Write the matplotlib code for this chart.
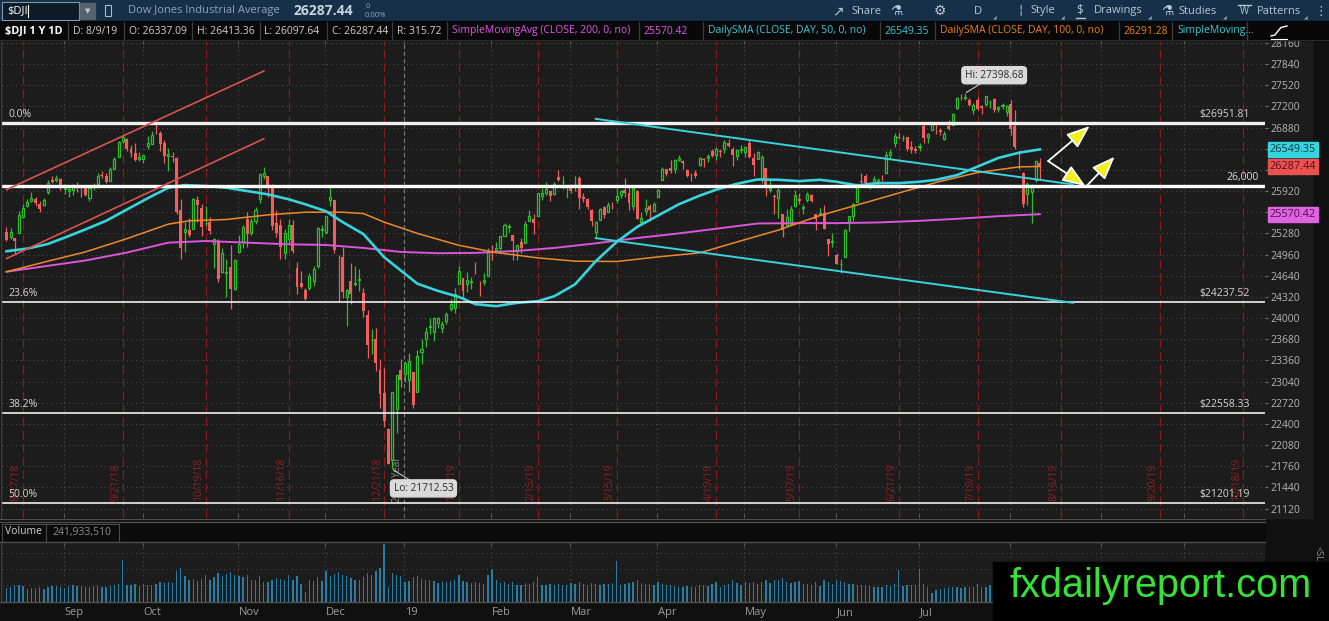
import numpy as np
import pandas as pd
import matplotlib
matplotlib.use("Agg")
import matplotlib.pyplot as plt
from matplotlib import transforms
from matplotlib.patches import Rectangle, FancyArrowPatch
from matplotlib.lines import Line2D

plt.rcParams['font.family'] = ['Open Sans', 'DejaVu Sans']

# trading days on the time axis (incl. the empty future part on the right)
market_holidays = ['2018-09-03', '2018-11-22', '2018-12-05', '2018-12-25', '2019-01-01',
                   '2019-01-21', '2019-02-18', '2019-04-19', '2019-05-27', '2019-07-04',
                   '2019-09-02']
days = pd.bdate_range('2018-08-13', '2019-10-25', freq='C', holidays=market_holidays)

# $DJI daily candles, 8/13/18 .. 8/9/19
opens = [
    25300, 25220, 25210, 25280, 25530, 25690, 25770, 25800, 25730, 25710, 25900, 26080, 26090, 26100, 25950,
    25920, 25930, 26000, 25920, 25970, 25810, 25980, 26020, 26160, 26150, 26070, 26260, 26440, 26680, 26710,
    26560, 26500, 26410, 26400,
    26600, 26630, 26830, 26790, 26640, 26450, 26450, 26420, 25630, 25300, 25330, 25340, 25790, 25660, 25430,
    25450, 25120, 25150, 24690, 24680, 24770, 24440, 25000,
    25150, 25500, 25280, 25460, 25800, 26150, 26140, 25990, 25440, 25400, 24990, 25200, 25400, 24750, 24530,
    24420, 24450, 24560, 24780, 25330, 25300,
    25780, 25780, 24950, 24920, 24320, 24560, 24520, 24580, 24380, 24050, 23670, 23690, 23220, 22870, 22320,
    21860, 22630, 23210, 23150,
    23060, 23180, 22890, 23480, 23680, 23870, 23790, 23930, 23850, 23950, 24140, 24150, 24520, 24610, 24520,
    24550, 24740, 24530, 24540, 24630, 25010,
    25030, 25060, 25240, 25370, 25260, 25020, 25150, 25130, 25470, 25490, 25550, 25840, 25890, 25920, 25880,
    26130, 26050, 25980, 25990,
    26020, 26120, 25830, 25800, 25640, 25300, 25480, 25680, 25600, 25710, 25780, 25860, 25940, 25890, 25700,
    25920, 25450, 25620, 25690, 25620, 25830,
    26080, 26260, 26270, 26250, 26390, 26380, 26240, 26160, 26190, 26310, 26410, 26420, 26520, 26470, 26530,
    26560, 26650, 26560, 26450, 26540, 26510,
    26640, 26420, 26400, 26100, 26270, 25940, 25850, 25820, 25580, 25400, 25420, 25700, 25800, 25670, 25780,
    25860, 25580, 25580, 25590, 25200, 25150, 24950,
    24810, 24920, 25470, 25550, 25760, 26070, 26150, 26000, 26050, 26060, 26120, 26200, 26470, 26650, 26730,
    26720, 26740, 26590, 26560, 26580,
    26900, 26730, 26840, 26940, 26850, 26710, 26900, 26920, 27170, 27360, 27330, 27300, 27150, 27290, 27200,
    27240, 27260, 27310, 27160, 27200, 27110, 27230,
    26900, 26500, 26200, 25880, 25910, 26090, 26337.09]
highs = [
    25380, 25355, 25210, 25615, 25720, 25800, 25900, 25830, 25770, 25820, 26080, 26140, 26170, 26110, 26020,
    25990, 26030, 26060, 26010, 26010, 26000, 26040, 26190, 26220, 26200, 26290, 26440, 26680, 26770, 26720,
    26620, 26640, 26510, 26470,
    26750, 26830, 26951.81, 26820, 26690, 26570, 26510, 26430, 25800, 25450, 25520, 25820, 25840, 25730, 25690,
    25530, 25210, 25190, 25060, 24900, 25100, 24900, 25260,
    25400, 25600, 25520, 25680, 26190, 26280, 26140, 26020, 25640, 25500, 25340, 25500, 25480, 24850, 24710,
    24450, 24680, 24780, 25370, 25400, 25550,
    25980, 25780, 24950, 25080, 24440, 24830, 24780, 24740, 24460, 24120, 23830, 23850, 23380, 23250, 22340,
    22880, 23140, 23380, 23350,
    23470, 23180, 23520, 23690, 23860, 24000, 24010, 24010, 23960, 24090, 24290, 24460, 24780, 24610, 24690,
    24620, 24840, 24560, 24680, 25060, 25100,
    25150, 25240, 25440, 25420, 25260, 25110, 25210, 25460, 25630, 25570, 25890, 25960, 26050, 25940, 26050,
    26240, 26150, 26010, 26020,
    26150, 26150, 25890, 25820, 25650, 25460, 25670, 25700, 25750, 25760, 25960, 25930, 26110, 25980, 26010,
    25930, 25610, 25800, 25720, 25760, 25950,
    26280, 26260, 26390, 26400, 26470, 26390, 26260, 26200, 26240, 26440, 26420, 26480, 26550, 26580, 26560,
    26690, 26700, 26590, 26550, 26610, 26600,
    26700, 26490, 26530, 26460, 26270, 26090, 25880, 25970, 25580, 25650, 25700, 25930, 25890, 25730, 25900,
    25880, 25580, 25670, 25710, 25200, 25280, 24980,
    24900, 25340, 25540, 25740, 26040, 26200, 26180, 26050, 26150, 26110, 26170, 26520, 26560, 26800, 26800,
    26760, 26740, 26670, 26600, 26640,
    26950, 26800, 26970, 26970, 26870, 26820, 26990, 27100, 27340, 27390, 27398.68, 27320, 27250, 27340, 27220,
    27350, 27300, 27320, 27200, 27250, 27220, 27300,
    27140, 26520, 26210, 26060, 26030, 26390, 26413.36]
lows = [
    25164, 25200, 24965, 25280, 25520, 25680, 25760, 25700, 25600, 25700, 25880, 26040, 26060, 25930, 25880,
    25830, 25860, 25900, 25830, 25850, 25770, 25930, 26010, 26110, 26040, 26070, 26250, 26440, 26640, 26520,
    26440, 26380, 26380, 26340,
    26550, 26630, 26780, 26530, 26350, 26230, 26360, 25580, 24900, 25000, 25230, 25340, 25450, 25240, 25390,
    25270, 24750, 24540, 24680, 24320, 24130, 24430, 24990,
    25060, 25070, 25260, 25420, 25740, 26100, 25830, 25330, 25220, 24900, 24900, 25120, 24980, 24370, 24460,
    24270, 24420, 24490, 24760, 25220, 25270,
    25700, 24980, 24240, 24300, 23880, 24220, 24490, 24410, 24010, 23400, 23460, 23200, 22640, 22350, 21790,
    21712.53, 22270, 22960, 23030,
    22880, 22640, 22890, 23300, 23570, 23760, 23660, 23850, 23780, 23910, 24100, 24080, 24520, 24300, 24400,
    24440, 24670, 24330, 24500, 24630, 24880,
    24980, 24990, 25240, 25300, 24880, 24880, 24990, 25130, 25460, 25270, 25550, 25790, 25860, 25770, 25860,
    26070, 25950, 25810, 25890,
    25920, 25650, 25750, 25650, 25390, 25208, 25480, 25520, 25600, 25650, 25740, 25820, 25830, 25640, 25640,
    25490, 25420, 25560, 25470, 25600, 25830,
    26080, 26140, 26190, 26200, 26380, 26250, 26130, 26070, 26110, 26300, 26280, 26360, 26430, 26390, 26440,
    26490, 26580, 26300, 26390, 26500, 26440,
    26420, 26140, 26400, 26040, 25850, 25900, 25580, 25520, 25220, 25400, 25410, 25680, 25720, 25580, 25750,
    25750, 25330, 25560, 25340, 24940, 25080, 24810,
    24680, 24920, 25310, 25470, 25750, 26040, 25980, 25950, 26040, 25990, 26070, 26190, 26400, 26580, 26700,
    26680, 26520, 26500, 26500, 26520,
    26650, 26640, 26840, 26780, 26760, 26690, 26840, 26920, 27160, 27300, 27290, 27210, 27090, 27150, 27090,
    27200, 27180, 27110, 27120, 27160, 27060, 26760,
    26550, 26250, 25680, 25710, 25440, 26050, 26097.64]
closes = [
    25187, 25299, 25162, 25558, 25669, 25758, 25822, 25733, 25656, 25790, 26049, 26064, 26124, 25986, 25964,
    25952, 25974, 25995, 25916, 25857, 25971, 25998, 26145, 26154, 26062, 26246, 26405, 26657, 26743, 26562,
    26492, 26385, 26439, 26458,
    26651, 26773, 26828, 26627, 26447, 26486, 26430, 25599, 25053, 25340, 25250, 25798, 25706, 25379, 25444,
    25317, 25191, 24583, 24984, 24689, 24443, 24875, 25116,
    25380, 25271, 25462, 25635, 26181, 26191, 25989, 25387, 25286, 25081, 25289, 25413, 25018, 24465, 24465,
    24286, 24640, 24749, 25366, 25339, 25538,
    25826, 25027, 24947, 24389, 24423, 24370, 24527, 24597, 24101, 23592, 23675, 23324, 22859, 22445, 21792,
    22878, 23139, 23062, 23327,
    23346, 22686, 23433, 23531, 23787, 23879, 24001, 23996, 23910, 24065, 24207, 24370, 24706, 24404, 24575,
    24553, 24737, 24528, 24579, 25014, 24999,
    25064, 25239, 25411, 25390, 25169, 25106, 25053, 25425, 25543, 25439, 25883, 25891, 25954, 25850, 26031,
    26091, 26057, 25985, 25916,
    26026, 25819, 25806, 25673, 25473, 25450, 25650, 25555, 25702, 25709, 25849, 25914, 25887, 25745, 25962,
    25502, 25516, 25657, 25626, 25717, 25929,
    26258, 26180, 26218, 26385, 26425, 26341, 26150, 26157, 26143, 26412, 26384, 26453, 26450, 26559, 26511,
    26656, 26597, 26462, 26543, 26554, 26593,
    26430, 26307, 26505, 26438, 25965, 25968, 25828, 25942, 25325, 25532, 25648, 25862, 25764, 25680, 25877,
    25776, 25490, 25586, 25347, 25126, 25169, 24815,
    24820, 25332, 25540, 25720, 25984, 26062, 26049, 26005, 26107, 26090, 26112, 26466, 26504, 26753, 26719,
    26727, 26548, 26536, 26526, 26600,
    26718, 26787, 26966, 26922, 26806, 26783, 26860, 27088, 27332, 27359, 27336, 27220, 27223, 27154, 27172,
    27349, 27270, 27141, 27192, 27221, 27199, 26864,
    26583, 26485, 25718, 26030, 26008, 26379, 26287.44]
# volume, millions of shares
volume_m = [
    210, 225, 260, 250, 240, 200, 215, 205, 220, 190, 230, 240, 235, 220, 215,
    245, 250, 240, 235, 220, 230, 240, 235, 220, 230, 240, 260, 270, 650, 260, 250, 280, 245, 270,
    260, 265, 270, 300, 285, 300, 290, 480, 530, 400, 330, 350, 320, 345, 420, 330, 380, 450, 400, 430,
    460, 420, 400,
    380, 410, 330, 340, 390, 310, 300, 330, 370, 350, 340, 420, 340, 390, 280, 150, 330, 320, 380, 320, 470,
    400, 430, 460, 420, 390, 370, 340, 330, 380, 440, 420, 480, 520, 895, 230, 440, 420, 390, 300,
    320, 380, 390, 350, 340, 330, 320, 290, 300, 310, 320, 330, 420, 320, 300, 290, 300, 290, 280, 420, 500,
    330, 290, 300, 280, 310, 260, 250, 290, 270, 300, 380, 260, 250, 270, 250, 280, 260, 250, 290,
    270, 300, 270, 260, 290, 280, 260, 270, 280, 290, 625, 260, 280, 290, 310, 330, 290, 280, 270, 250, 300,
    280, 250, 260, 240, 230, 220, 240, 230, 230, 260, 250, 240, 270, 300, 230, 250, 280, 330, 290, 260, 300,
    290, 310, 270, 300, 330, 290, 330, 340, 360, 310, 290, 300, 320, 280, 270, 260, 300, 240, 330, 310, 280, 330,
    320, 300, 270, 280, 260, 260, 250, 240, 230, 230, 220, 250, 240, 270, 485, 240, 260, 250, 250, 510,
    270, 230, 140, 180, 200, 210, 220, 220, 230, 210, 220, 230, 220, 280, 220, 230, 250, 250, 240, 230, 240, 330,
    360, 320, 420, 360, 350, 280, 241.93351]

# studies
sma200_dates = ['2018-08-13', '2018-08-27', '2018-09-10', '2018-09-24', '2018-10-08', '2018-10-19',
                '2018-11-02', '2018-11-16', '2018-11-30', '2018-12-14', '2018-12-28', '2019-01-11',
                '2019-01-25', '2019-02-08', '2019-02-22', '2019-03-08', '2019-03-22', '2019-04-05',
                '2019-04-18', '2019-05-03', '2019-05-17', '2019-05-31', '2019-06-14', '2019-06-28',
                '2019-07-12', '2019-07-26', '2019-08-09']
sma200_vals = [24700, 24790, 24870, 24990, 25140, 25165, 25140, 25115, 25105, 25060, 25000, 24980,
               24985, 25015, 25060, 25130, 25210, 25280, 25350, 25430, 25435, 25435, 25445, 25470,
               25500, 25540, 25570.42]
sma50_dates = ['2018-08-13', '2018-08-20', '2018-08-27', '2018-09-04', '2018-09-10', '2018-09-17',
               '2018-09-24', '2018-10-01', '2018-10-08', '2018-10-12', '2018-10-19', '2018-10-26',
               '2018-11-02', '2018-11-09', '2018-11-16', '2018-11-23', '2018-11-30', '2018-12-07',
               '2018-12-14', '2018-12-21', '2018-12-28', '2019-01-04', '2019-01-11', '2019-01-18',
               '2019-01-25', '2019-02-01', '2019-02-08', '2019-02-15', '2019-02-22', '2019-03-01',
               '2019-03-08', '2019-03-15', '2019-03-22', '2019-03-29', '2019-04-05', '2019-04-12',
               '2019-04-18', '2019-04-26', '2019-05-03', '2019-05-10', '2019-05-17', '2019-05-24',
               '2019-05-31', '2019-06-07', '2019-06-14', '2019-06-21', '2019-06-28', '2019-07-05',
               '2019-07-12', '2019-07-19', '2019-07-26', '2019-08-02', '2019-08-09']
sma50_vals = [25010, 25050, 25120, 25240, 25340, 25470, 25640, 25810, 25970, 26010, 25995, 25970,
              25920, 25870, 25795, 25720, 25615, 25450, 25270, 24920, 24720, 24520, 24410, 24320,
              24210, 24180, 24230, 24255, 24330, 24510, 24860, 25150, 25380, 25550, 25720, 25850,
              25940, 26030, 26095, 26090, 26070, 26090, 26060, 26005, 26040, 26040, 26060, 26090,
              26160, 26290, 26420, 26500, 26549.35]
sma100_dates = ['2018-08-13', '2018-08-27', '2018-09-10', '2018-09-24', '2018-10-08', '2018-10-15',
                '2018-10-26', '2018-11-09', '2018-11-23', '2018-12-07', '2018-12-14', '2018-12-21',
                '2019-01-04', '2019-01-18', '2019-02-01', '2019-02-15', '2019-03-01', '2019-03-15',
                '2019-03-29', '2019-04-12', '2019-04-26', '2019-05-10', '2019-05-24', '2019-06-07',
                '2019-06-21', '2019-07-05', '2019-07-19', '2019-08-02', '2019-08-09']
sma100_vals = [24700, 24860, 25000, 25200, 25420, 25470, 25490, 25560, 25600, 25600, 25580, 25450,
               25280, 25100, 24990, 24910, 24860, 24855, 24925, 24985, 25150, 25330, 25550, 25710,
               25890, 26050, 26200, 26285, 26291.28]

# drawings
fib_levels = [26951.81, 24237.52, 22558.33, 21201.19]
fib_names = ['0.0%', '23.6%', '38.2%', '50.0%']
round_level = 26000
channel_dates = ['2018-08-13', '2018-11-08']
channel_upper = [25941, 27733]
channel_lower = [24899, 26710]
wedge_dates = ['2019-03-08', '2019-08-21']
wedge_upper = [27011, 26020]
wedge_lower = [25208, 24230]
arrow_from_dates = ['2019-08-13', '2019-08-13', '2019-08-26']
arrow_from_px = [26373, 26373, 25980]
arrow_to_dates = ['2019-08-27', '2019-08-26', '2019-09-05']
arrow_to_px = [26902, 25995, 26438]
expiry_dates = ['2018-08-17', '2018-09-21', '2018-10-19', '2018-11-16', '2018-12-21', '2019-01-18',
                '2019-02-15', '2019-03-15', '2019-04-19', '2019-05-17', '2019-06-21', '2019-07-19',
                '2019-08-16', '2019-09-20', '2019-10-18']
month_starts = ['2018-09-01', '2018-10-01', '2018-11-01', '2018-12-01', '2019-01-01', '2019-02-01',
                '2019-03-01', '2019-04-01', '2019-05-01', '2019-06-01', '2019-07-01', '2019-08-01',
                '2019-09-01', '2019-10-01']
price_ticks = list(range(21120, 28161, 320))

o = np.array(opens, float)
h = np.array(highs, float)
l = np.array(lows, float)
c = np.array(closes, float)
vol = np.array(volume_m, float)
xs = np.arange(len(c))


def pos(d):
    return days.searchsorted(pd.Timestamp(d), side='right') - 1


# ---- layout (pixel based) ----
W, H = 1329, 621
BG = '#1c1c1c'
GREEN = '#2fbd2f'
RED = '#f25e5e'
CYAN = '#38d3dc'
ORANGE = '#ec8a2a'
MAGENTA = '#dc55dc'


def frect(x0, y0, x1, y1):
    return [x0 / W, 1 - y1 / H, (x1 - x0) / W, (y1 - y0) / H]


fig = plt.figure(figsize=(W / 100, H / 100), dpi=100, facecolor='#101010')


def fpatch(x0, y0, x1, y1, **kw):
    kw.setdefault('zorder', 10)
    fig.add_artist(Rectangle((x0 / W, 1 - y1 / H), (x1 - x0) / W, (y1 - y0) / H,
                             transform=fig.transFigure, **kw))


def fline(px, py, **kw):
    kw.setdefault('zorder', 11)
    fig.add_artist(Line2D([x / W for x in px], [1 - y / H for y in py],
                          transform=fig.transFigure, **kw))


def ftext(x, y, s, **kw):
    kw.setdefault('va', 'center')
    kw.setdefault('zorder', 12)
    return fig.text(x / W, 1 - y / H, s, **kw)


fpatch(1265, 40, 1312, 518, color=BG, zorder=-1)

ax = fig.add_axes(frect(2, 40, 1265, 518))
axv = fig.add_axes(frect(2, 542, 1265, 601.5))
XL = (-1.084, 303.25)

# coloured last-value markers on the price axis (they cover the tick labels under them)
markers = [(c[-1], '#e8524f', '#5c0f0f'), (sma50_vals[-1], '#35d4de', '#0d3a4c'),
           (sma200_vals[-1], '#e163e1', '#4a0f4a')]

month_first = [days[days >= pd.Timestamp(m)][0] for m in month_starts]
month_x = [days.get_loc(d) - 1.2 for d in month_first]

# ---- price pane ----
ax.set_facecolor(BG)
for s in ax.spines.values():
    s.set_visible(False)
ax.spines['top'].set_visible(True)
ax.spines['top'].set_color('#505050')
ax.set_xlim(XL)
ax.set_ylim(20978, 28203)
ax.set_xticks(month_x)
ax.tick_params(axis='x', which='both', top=True, bottom=True, direction='in', length=3,
               color='#5a5a5a', labelbottom=False, labeltop=False)
ax.yaxis.tick_right()
ax.set_yticks(price_ticks)
ax.set_yticklabels([str(t) if all(abs(t - m[0]) > 130 for m in markers) else ''
                    for t in price_ticks])
ax.tick_params(axis='y', colors='#707070', labelcolor='#b4b4b4', labelsize=7.5,
               length=2.5, width=0.8, pad=1.5)
for t in price_ticks:
    ax.axhline(t, color='#4a4a4a', lw=0.8, ls=(0, (1, 3)), zorder=0.5)

data_x_axes_y = transforms.blended_transform_factory(ax.transData, ax.transAxes)
for mx, d in zip(month_x, month_first):
    if d.month == 1:
        ax.axvline(mx, color='#7a7a7a', lw=0.8, ls=(0, (4, 2.5)), zorder=0.6)
        ax.text(mx - 0.2, 0.033, f"{d.year} Year", transform=data_x_axes_y, rotation=90,
                ha='right', va='bottom', color='#8a8a8a', fontsize=7, zorder=0.7)
    else:
        ax.axvline(mx, color='#4a4a4a', lw=0.8, ls=(0, (1, 3)), zorder=0.5)
    axv.axvline(mx, color='#4a4a4a', lw=0.8, ls=(0, (1, 3)), zorder=0.5)

for d in expiry_dates:
    p = pos(d)
    dt = pd.Timestamp(d)
    ax.axvline(p, color='#8e1b1b', lw=0.9, ls=(0, (7, 3.5)), zorder=1)
    ax.text(p - 0.35, 0.036, f"{dt.month}/{dt.day}/{dt.year % 100:02d}", transform=data_x_axes_y,
            rotation=90, ha='right', va='bottom', color='#951f1f', fontsize=7.5, zorder=1.2)

# candles
up = c >= o
ax.vlines(xs[up], l[up], h[up], color=GREEN, lw=0.9, zorder=3)
ax.vlines(xs[~up], l[~up], h[~up], color=RED, lw=0.9, zorder=3)
ax.bar(xs[up], c[up] - o[up], bottom=o[up], width=0.5, facecolor=BG, edgecolor=GREEN,
       linewidth=0.9, zorder=3.1)
ax.bar(xs[~up], o[~up] - c[~up], bottom=c[~up], width=0.72, color=RED, linewidth=0, zorder=3.1)

# moving averages
ax.plot([pos(d) for d in sma200_dates], sma200_vals, color=MAGENTA, lw=1.4, zorder=4)
ax.plot([pos(d) for d in sma100_dates], sma100_vals, color=ORANGE, lw=1.1, zorder=4)
ax.plot([pos(d) for d in sma50_dates], sma50_vals, color=CYAN, lw=1.9, zorder=4.1)

# fibonacci + round number lines
lab_tr = transforms.offset_copy(transforms.blended_transform_factory(ax.transAxes, ax.transData),
                                fig=fig, x=0, y=3, units='dots')
for lvl, name in zip(fib_levels, fib_names):
    ax.axhline(lvl, color='#f0f0f0', lw=2.4 if name == '0.0%' else 1.2, zorder=5)
    ax.text(0.0048, lvl, name, transform=lab_tr, ha='left', va='bottom', color='#d6d6d6',
            fontsize=7.5, zorder=6)
    ax.text(0.9881, lvl, f"${lvl:.2f}", transform=lab_tr, ha='right', va='bottom',
            color='#d6d6d6', fontsize=7.5, zorder=6)
ax.axhline(round_level, color='white', lw=2.4, zorder=5)
ax.text(0.9953, round_level, f"{round_level:,}", transform=lab_tr, ha='right', va='bottom',
        color='#e0e0e0', fontsize=7.5, zorder=6)

# trend lines
cx = [pos(d) for d in channel_dates]
ax.plot(cx, channel_upper, color='#d9534f', lw=1.2, zorder=5)
ax.plot(cx, channel_lower, color='#d9534f', lw=1.2, zorder=5)
wx = [pos(d) for d in wedge_dates]
ax.plot(wx, wedge_upper, color=CYAN, lw=1.4, zorder=5)
ax.plot(wx, wedge_lower, color=CYAN, lw=1.4, zorder=5)

for d1, p1, d2, p2 in zip(arrow_from_dates, arrow_from_px, arrow_to_dates, arrow_to_px):
    ax.add_patch(FancyArrowPatch((pos(d1), p1), (pos(d2), p2),
                                 arrowstyle='-|>,head_length=0.65,head_width=0.25', mutation_scale=22,
                                 fc='#f5ee1a', ec='white', lw=1.3, shrinkA=0, shrinkB=0, zorder=7))

# hi / lo bubbles
ihi, ilo = int(np.argmax(h)), int(np.argmin(l))
bubble = dict(boxstyle='round,pad=0.3,rounding_size=0.35', fc='#dadada', ec='#dadada')
pointer = dict(arrowstyle='-', color='#c8c8c8', lw=0.8, shrinkA=0, shrinkB=1)
ax.annotate(f"Hi: {h[ihi]:.2f}", xy=(ihi, h[ihi]), xytext=(29, 18), textcoords='offset pixels',
            ha='center', va='center', fontsize=7.3, color='#2a2a2a', bbox=bubble,
            arrowprops=pointer, zorder=8)
ax.annotate(f"Lo: {l[ilo]:.2f}", xy=(ilo, l[ilo]), xytext=(31, -19), textcoords='offset pixels',
            ha='center', va='center', fontsize=7.3, color='#2a2a2a', bbox=bubble,
            arrowprops=pointer, zorder=8)

axis_y = transforms.blended_transform_factory(ax.transAxes, ax.transData)
for val, fc, tc in markers:
    ax.annotate(f"{val:.2f}", xy=(1.0, val), xycoords=axis_y, xytext=(5, 0),
                textcoords='offset pixels', ha='left', va='center', fontsize=7.8, color=tc,
                bbox=dict(boxstyle='square,pad=0.18', fc=fc, ec=fc), annotation_clip=False, zorder=9)

# ---- volume pane ----
axv.set_facecolor(BG)
for s in axv.spines.values():
    s.set_visible(False)
axv.set_xlim(XL)
axv.set_ylim(0, 928)
axv.set_xticks(month_x)
axv.tick_params(axis='x', top=True, bottom=False, direction='in', length=3, color='#5a5a5a',
                labelbottom=False, labeltop=False)
axv.set_yticks([])
for v in (250, 500, 750):
    axv.axhline(v, color='#4a4a4a', lw=0.8, ls=(0, (1, 3)), zorder=0.5)
axv.bar(xs, vol, width=0.32, color='#2b7ca3', linewidth=0, zorder=2)

vol_x_tr = transforms.blended_transform_factory(axv.transData, axv.transAxes)
for mx, d in zip(month_x, month_first):
    lab = f"{d.year % 100}" if d.month == 1 else d.strftime('%b')
    axv.text(mx + 0.2, -0.18, lab, transform=vol_x_tr, ha='left', va='center', color='#9c9c9c',
             fontsize=8, clip_on=False)

# pane separators and volume header strip
fpatch(0, 519, 1265, 542, color='#0b0b0b', zorder=9)
fline([0, 1265], [518.5, 518.5], color='#505050', lw=1)
fline([0, 1265], [521.5, 521.5], color='#505050', lw=1)
fline([0, 1265], [542, 542], color='#505050', lw=1)
fline([0, 1265], [601.8, 601.8], color='#505050', lw=1)
fline([1.5, 1.5], [40, 601.8], color='#3e3e3e', lw=1, zorder=8)
fline([2, 2, 119, 119], [541, 523.5, 523.5, 541], color='#4a4a4a', lw=0.8)
fline([46, 46], [523.5, 541], color='#4a4a4a', lw=0.8)
ftext(5, 532, 'Volume', color='#d2d2d2', fontsize=7.5)
ftext(52, 532, f"{int(round(vol[-1] * 1e6)):,}", color='#8c8c8c', fontsize=7.5)

# ---- top toolbar ----
fpatch(0, 0, W, 21.5, color='#163049')
fpatch(2, 2.5, 79, 19.5, fc='#0d1a28', ec='#8397aa', lw=0.8, zorder=11)
ftext(7, 11, '$DJI', color='white', fontsize=8)
fline([28, 28], [5, 17], color='white', lw=0.8, zorder=12)
fpatch(80, 3, 95, 19, color='#56626e', zorder=11)
ftext(87.5, 11, '\u25bc', color='#c9c9c9', fontsize=5, ha='center', family='DejaVu Sans')
fpatch(105, 5, 111, 16, fc='none', ec='#a9bccb', lw=0.8, zorder=11)
ftext(128, 11, 'Dow Jones Industrial Average', color='#8ea5ba', fontsize=8)
ftext(294, 11, f"{c[-1]:.2f}", color='#c9d3dc', fontsize=10, weight='bold')
ftext(366, 6.5, '0', color='#8ea5ba', fontsize=5.5)
ftext(365, 15.5, '0.00%', color='#8ea5ba', fontsize=5.5)

tb = '#b9c7d4'
ftext(838, 11, '\u2197', color=tb, fontsize=10, ha='center', family='DejaVu Sans')
ftext(851, 11, 'Share', color=tb, fontsize=8)
ftext(896, 11, '\u2697', color=tb, fontsize=10, ha='center', family='DejaVu Sans')
ftext(940, 11, '\u2699', color=tb, fontsize=10, ha='center', family='DejaVu Sans')
ftext(978, 11, 'D', color=tb, fontsize=8, ha='center')
ftext(1020, 11, '\u00a6', color=tb, fontsize=9, ha='center', family='DejaVu Sans')
ftext(1030, 11, 'Style', color=tb, fontsize=8)
ftext(1080, 10, '$', color=tb, fontsize=8.5, ha='center')
fline([1076, 1085], [17.5, 17.5], color=tb, lw=1)
ftext(1094, 11, 'Drawings', color=tb, fontsize=8)
ftext(1167, 11, '\u2697', color=tb, fontsize=10, ha='center', family='DejaVu Sans')
ftext(1178, 11, 'Studies', color=tb, fontsize=8)
ftext(1244, 12, 'W', color=tb, fontsize=7, ha='center')
fline([1238, 1251], [5, 5], color=tb, lw=1)
ftext(1257, 11, 'Patterns', color=tb, fontsize=8)
ftext(1321, 11, '\u22ee', color=tb, fontsize=9, ha='center', family='DejaVu Sans')
for tx in (995, 1063, 1150, 1225, 1306):
    ftext(tx, 17, '\u25e2', color='#8aa0b3', fontsize=3.5, ha='center', family='DejaVu Sans')

# ---- study / quote row ----
fpatch(0, 21.5, W, 40, color='#080808')
for sx in (67.5, 124, 192, 260, 327, 392, 446.6, 639, 702.7, 879.7, 935, 1118.6, 1172, 1246.6):
    fline([sx, sx], [22, 40], color='#3c3c3c', lw=0.9)
fline([0, W], [40, 40], color='#2a2a2a', lw=0.8)
last_day = pd.Timestamp(days[len(c) - 1])
row = [(5, '$DJI 1 Y 1D', 'white', 'bold'),
       (73, f"D: {last_day.month}/{last_day.day}/{last_day.year % 100}", '#cfcfcf', 'normal'),
       (129, f"O: {o[-1]:.2f}", '#cfcfcf', 'normal'),
       (197, f"H: {h[-1]:.2f}", '#cfcfcf', 'normal'),
       (264.5, f"L: {l[-1]:.2f}", '#cfcfcf', 'normal'),
       (331.5, f"C: {c[-1]:.2f}", '#cfcfcf', 'normal'),
       (397, f"R: {h[-1] - l[-1]:.2f}", '#cfcfcf', 'normal'),
       (452, 'SimpleMovingAvg (CLOSE, 200, 0, no)', '#e055e8', 'normal'),
       (643, f"{sma200_vals[-1]:.2f}", '#e055e8', 'normal'),
       (708, 'DailySMA (CLOSE, DAY, 50, 0, no)', '#3cc8d8', 'normal'),
       (884, f"{sma50_vals[-1]:.2f}", '#3cc8d8', 'normal'),
       (939.5, 'DailySMA (CLOSE, DAY, 100, 0, no)', '#e8801e', 'normal'),
       (1123, f"{sma100_vals[-1]:.2f}", '#e8801e', 'normal'),
       (1177, 'SimpleMoving...', '#3cc8d8', 'normal')]
for rx, txt, col, wt in row:
    ftext(rx, 31, txt, color=col, fontsize=7.8 if wt == 'bold' else 7.5, weight=wt)
fline([1271, 1275, 1278, 1281, 1287], [36, 35, 31, 27.5, 26], color='white', lw=1)
fline([1271, 1287], [38.5, 38.5], color='white', lw=0.8)

ftext(1318, 553, '<SL', color='#9a9a9a', fontsize=6.5, rotation=-90, ha='center')

# ---- watermark ----
fpatch(993, 562, W, H, color='black', zorder=20)
ftext(1009, 597, 'fxdailyreport.com', color='#35e235', fontsize=28.6, family='Liberation Sans',
      va='baseline', zorder=21)

fig.savefig('out.png', dpi=100, facecolor=fig.get_facecolor())
